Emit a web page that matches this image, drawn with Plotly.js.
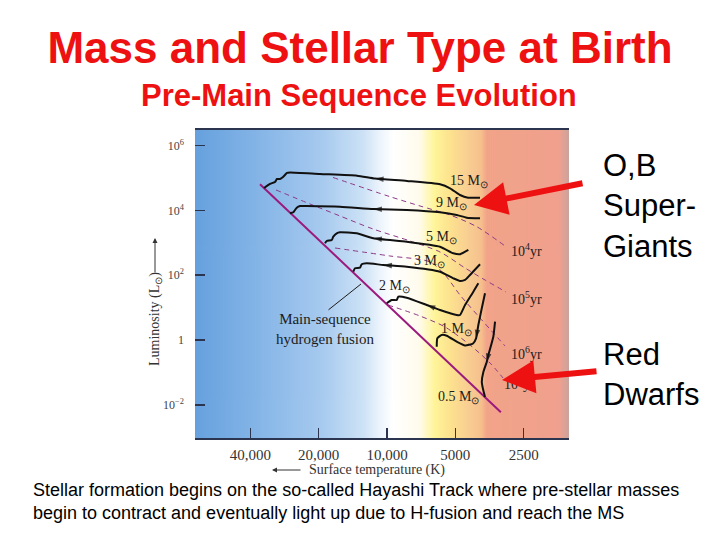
<!DOCTYPE html>
<html>
<head>
<meta charset="utf-8">
<script src="https://cdn.plot.ly/plotly-3.0.1.min.js"></script>
<style>html,body{margin:0;padding:0;background:#fff;}#chart{width:720px;height:540px;}</style>
</head>
<body>
<div id="chart"></div>
<script>
// ---------------- data (surface temperature in K, luminosity in L_sun) ----------------
const mainSeqT = [36300, 3150];
const mainSeqL = [64000, 0.0059];

const massNames = ['15', '9', '5', '3', '2', '1', '0.5'];

// evolutionary tracks, ordered from birth to the main sequence
const track15T = [3892, 4395, 4769, 5277, 5840, 8166, 11290, 13560, 19740, 26760, 27590, 28730, 29620, 30530, 31160, 32790, 34840];
const track15L = [24660, 24660, 29880, 48100, 63900, 80800, 96500, 117800, 132900, 147800, 142700, 107400, 93140, 93140, 75250, 65280, 49130];
const track9T = [3892, 4454, 4930, 5840, 8190, 11490, 16110, 22590, 24180, 25000, 25440, 25880, 26760];
const track9L = [5705, 5953, 7211, 8738, 10290, 11050, 13010, 13670, 13670, 12120, 10290, 8738, 8139];
const track5T = [4382, 4769, 5104, 5840, 8190, 11490, 13600, 16110, 16660, 17250, 17530, 18440, 18760];
const track5L = [600, 442, 474, 758, 1081, 1377, 1964, 2109, 1964, 1543, 1220, 1137, 965];
const track3T = [3892, 4307, 4531, 4769, 5104, 5840, 8190, 10380, 12290, 12930, 13150, 13840, 14080];
const track3L = [216.9, 101.4, 71.1, 66.2, 80.2, 128.3, 182.9, 206.5, 232.9, 216.9, 170.4, 163.3, 128.3];
const track2T = [3959, 4165, 4531, 4769, 4930, 5840, 6683, 8190, 8916, 9063, 9535, 10030];
const track2L = [56.2, 30.95, 12.03, 5.91, 5.91, 8.43, 12.03, 20.21, 21.70, 17.16, 17.16, 13.58];
const track1T = [3700, 3823, 3959, 4052, 4178, 4531, 4930, 5457, 5741, 6001, 6039];
const track1L = [27.6, 9.51, 2.904, 1.128, 0.780, 0.676, 0.886, 1.357, 1.427, 1.128, 0.621];
const track05T = [3342, 3401, 3577, 3636, 3763, 3823, 3785, 3700];
const track05L = [3.671, 1.264, 0.3444, 0.2094, 0.1029, 0.0505, 0.0330, 0.0174];
// index of the point on each track that carries the direction arrow
const arrowIndex = [6, 5, 5, 7, 6, 3, 3];

// isochrones
const isoNames = ['10<sup>4</sup>yr', '10<sup>5</sup>yr', '10<sup>6</sup>yr', '10<sup>7</sup>yr'];
const iso4T = [17300, 9700, 7155, 5277, 4024, 3019];
const iso4L = [103600, 26480, 13670, 7211, 3140, 796.6];
const iso5T = [30850, 21850, 16110, 11530, 7917, 5840, 4531, 3700, 2989];
const iso5L = [42620, 15760, 6717, 2666, 1137, 520, 166.8, 71.1, 30.3];
const iso6T = [16950, 9700, 6463, 5552, 4769, 3892, 3019];
const iso6L = [691, 391.4, 255.5, 101.4, 24.5, 4.775, 0.653];
const iso7T = [9899, 7155, 5552, 4307, 3516, 3081];
const iso7L = [12.03, 5.505, 2.518, 0.701, 0.195, 0.0672];

// axis ticks
const xTickVals = [40000, 20000, 10000, 5000, 2500];
const xTickText = ['40,000', '20,000', '10,000', '5000', '2500'];
const yTickVals = [1e6, 1e4, 1e2, 1, 1e-2];
const yTickText = ['10<sup>6</sup>', '10<sup>4</sup>', '10<sup>2</sup>', '1', '10<sup>\u22122</sup>'];

// ---------------- layout helpers ----------------
const W = 720, H = 540;
const PL = 195, PR = 569, PT = 130, PB = 438;
const fx = px => (px - PL) / (PR - PL);
const fy = py => (PB - py) / (PB - PT);

const serif = 'Liberation Serif, Times New Roman, serif';
const sans = 'Liberation Sans, Arial, sans-serif';
const red = '#ee1111';
const ink = '#1c1c1c';

const tracksT = [track15T, track9T, track5T, track3T, track2T, track1T, track05T];
const tracksL = [track15L, track9L, track5L, track3L, track2L, track1L, track05L];
const isoT = [iso4T, iso5T, iso6T, iso7T];
const isoL = [iso4L, iso5L, iso6L, iso7L];

const traces = [];
isoT.forEach((t, i) => {
  traces.push({
    x: t, y: isoL[i], type: 'scatter', mode: 'lines', name: isoNames[i],
    line: {color: '#8c3a86', width: 1, dash: '5px,4px', shape: 'spline', smoothing: 0.8},
    hoverinfo: 'skip'
  });
});
traces.push({
  x: mainSeqT, y: mainSeqL, type: 'scatter', mode: 'lines', name: 'main sequence',
  line: {color: '#9c1a7e', width: 2}, hoverinfo: 'skip'
});
tracksT.forEach((t, i) => {
  traces.push({
    x: t, y: tracksL[i], type: 'scatter', mode: 'lines+markers', name: massNames[i] + ' Msun',
    line: {color: '#111', width: 2, shape: 'spline', smoothing: 0.5},
    marker: {
      symbol: 'arrow', angleref: 'previous', color: '#111',
      size: t.map((_, k) => k === arrowIndex[i] ? 9 : 0),
      line: {width: 0}
    },
    hoverinfo: 'skip'
  });
});

// background gradient for the plot area
function gradientURL() {
  const c = document.createElement('canvas');
  c.width = 748; c.height = 4;
  const g = c.getContext('2d');
  const grd = g.createLinearGradient(0, 0, c.width, 0);
  const stops = [
    [0.00, '#66a1de'], [0.17, '#85b5e7'], [0.34, '#a7caef'], [0.45, '#cde2f6'],
    [0.50, '#f0f6fd'], [0.53, '#ffffff'], [0.60, '#fffbec'], [0.64, '#fff59a'],
    [0.68, '#fde38f'], [0.74, '#f8ca92'], [0.765, '#f6c08d'], [0.78, '#f2a489'],
    [0.975, '#f0a08e'], [1.00, '#c9a49e']
  ];
  stops.forEach(s => grd.addColorStop(s[0], s[1]));
  g.fillStyle = grd;
  g.fillRect(0, 0, c.width, c.height);
  return c.toDataURL('image/png');
}

// ---------------- annotations ----------------
const ann = [];
function label(px, py, text, font, extra) {
  ann.push(Object.assign({xref: 'paper', yref: 'paper', x: fx(px), y: fy(py), text: text,
    showarrow: false, xanchor: 'center', yanchor: 'middle', font: font}, extra || {}));
}
function pointer(px, py, ax, ay, color, width, head, size) {
  ann.push({xref: 'paper', yref: 'paper', x: fx(px), y: fy(py), ax: ax, ay: ay, axref: 'pixel', ayref: 'pixel',
    text: '', showarrow: true, arrowhead: head, arrowsize: size, arrowwidth: width, arrowcolor: color,
    xanchor: 'center', yanchor: 'middle', standoff: 0, startstandoff: 0});
}
const massPos = [[469, 181], [451, 203], [441, 237], [429, 261], [394, 286], [456, 329], [458, 397]];
massNames.forEach((m, i) => label(massPos[i][0], massPos[i][1], m + ' M<sub>\u2299</sub>', {family: serif, size: 14, color: ink}));
const isoPos = [[526, 250], [526, 298], [526, 353], [519, 383]];
isoNames.forEach((n, i) => label(isoPos[i][0], isoPos[i][1], n, {family: serif, size: 14, color: ink}));
label(325, 329, 'Main-sequence<br>hydrogen fusion', {family: serif, size: 15, color: ink});
pointer(361, 284, -34, 27, ink, 1, 0, 1);
// axis titles
label(155, 319, 'Luminosity (L<sub>\u2299</sub>)', {family: serif, size: 14, color: '#333'}, {textangle: -90});
pointer(155, 238, 0, 36, '#333', 1, 2, 1);
label(377, 470, 'Surface temperature (K)', {family: serif, size: 14, color: '#333'});
pointer(272, 470, 30, 0, '#333', 1, 2, 1);
// slide text
label(359, 95, '<b>Pre-Main Sequence Evolution</b>', {family: sans, size: 31, color: red});
label(601, 206, 'O,B<br>Super-<br>Giants', {family: sans, size: 31, color: '#000'}, {xanchor: 'left', align: 'left'});
label(601, 374, 'Red<br>Dwarfs', {family: sans, size: 31, color: '#000'}, {xanchor: 'left', align: 'left'});
label(31, 501, 'Stellar formation begins on the so-called Hayashi Track where pre-stellar masses<br>begin to contract and eventually light up due to H-fusion and reach the MS',
  {family: sans, size: 18, color: '#000'}, {xanchor: 'left', align: 'left'});
// red pointer arrows
pointer(474, 205, 110, -22, red, 6, 2, 1.1);
pointer(502, 380, 96, -9, red, 6, 2, 1.1);

const layout = {
  width: W, height: H,
  margin: {l: PL, r: W - PR, t: PT, b: H - PB, pad: 0},
  paper_bgcolor: '#ffffff', plot_bgcolor: 'rgba(0,0,0,0)',
  showlegend: false,
  title: {text: '<b>Mass and Stellar Type at Birth</b>', xref: 'container', x: 0.5, xanchor: 'center',
    yref: 'container', y: 1 - 48 / H, yanchor: 'middle', font: {family: sans, size: 44, color: red}},
  xaxis: {
    type: 'log', range: [Math.log10(70180), Math.log10(1578)],
    tickvals: xTickVals, ticktext: xTickText, ticks: 'inside', ticklen: 10, tickwidth: 1.5, tickcolor: '#2b3550',
    showline: true, mirror: true, linecolor: '#2b3550', linewidth: 2,
    showgrid: false, zeroline: false, tickfont: {family: serif, size: 15, color: '#333'}, ticklabelstandoff: 2
  },
  yaxis: {
    type: 'log', range: [-3.025, 6.481],
    tickvals: yTickVals, ticktext: yTickText, ticks: 'inside', ticklen: 10, tickwidth: 1.5, tickcolor: '#2b3550',
    showline: false, showgrid: false, zeroline: false,
    tickfont: {family: serif, size: 12, color: '#444'}, ticklabelstandoff: 10
  },
  images: [{source: gradientURL(), xref: 'paper', yref: 'paper', x: 0, y: 1, sizex: 1, sizey: 1,
    xanchor: 'left', yanchor: 'top', sizing: 'stretch', layer: 'below'}],
  annotations: ann
};

Plotly.newPlot('chart', traces, layout, {displayModeBar: false, staticPlot: true});
</script>
</body>
</html>
